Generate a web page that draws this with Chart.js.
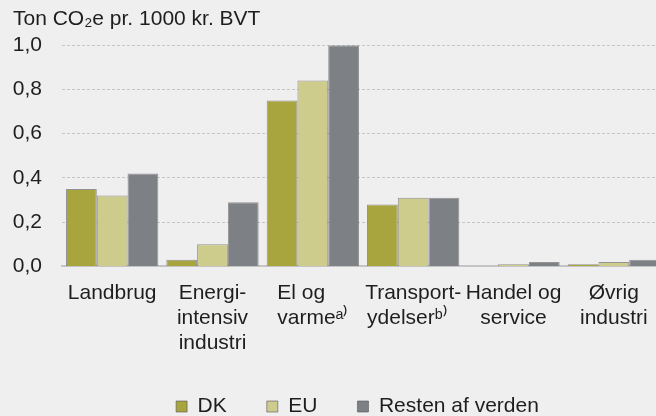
<!DOCTYPE html>
<html>
<head>
<meta charset="utf-8">
<script src="https://cdn.jsdelivr.net/npm/chart.js@4/dist/chart.umd.min.js"></script>
<style>
  html, body { margin: 0; padding: 0; background: #efefef; overflow: hidden; }
  #wrap { width: 670px; height: 416px; }
</style>
</head>
<body>
<div id="wrap"><canvas id="canvas" width="670" height="416"></canvas></div>
<script>
// chart values
const categories = [
  ['Landbrug'],
  ['Energi-', 'intensiv', 'industri'],
  ['El og    ', 'varmeᵃ⁾'],
  ['Transport-', 'ydelserᵇ⁾  '],
  ['Handel og', 'service'],
  ['Øvrig', 'industri']
];
const dkValues = [0.35, 0.03, 0.75, 0.28, 0.00, 0.01];
const euValues = [0.32, 0.10, 0.84, 0.31, 0.01, 0.02];
const restValues = [0.42, 0.29, 1.00, 0.31, 0.02, 0.03];
const seriesNames = ['DK', 'EU', 'Resten af verden'];
const yTicks = [0, 0.2, 0.4, 0.6, 0.8, 1.0];

const FONT = "'Liberation Sans', Arial, sans-serif";
const TEXT = '#1e1e1e';

// nudges the legend so it sits under the plot like the original
// (only the top moves up, so the legend keeps room down to the canvas edge)
const legendShift = {
  id: 'legendShift',
  afterLayout(chart, args, opts) {
    const l = chart.legend;
    if (!l) return;
    l.left += opts.dx;
    l.right += opts.dx;
    l.top += opts.dy;
    l.height = l.bottom - l.top;
  }
};

const bgPlugin = {
  id: 'bg',
  beforeDraw(chart) {
    const c = chart.ctx;
    c.save();
    c.fillStyle = '#efefef';
    c.fillRect(0, 0, chart.width, chart.height);
    c.restore();
  }
};

const barBorder = 'rgba(85,85,85,0.6)';

new Chart(document.getElementById('canvas'), {
  type: 'bar',
  data: {
    labels: categories,
    datasets: [
      { label: seriesNames[0], data: dkValues, backgroundColor: '#a8a43e', borderColor: barBorder, borderWidth: 1 },
      { label: seriesNames[1], data: euValues, backgroundColor: '#cdcc8d', borderColor: barBorder, borderWidth: 1 },
      { label: seriesNames[2], data: restValues, backgroundColor: '#7d8085', borderColor: barBorder, borderWidth: 1 }
    ]
  },
  options: {
    responsive: false,
    animation: false,
    devicePixelRatio: 1,
    layout: { padding: { left: 13, right: 6, top: 0, bottom: 0 } },
    datasets: { bar: { categoryPercentage: 0.92, barPercentage: 1.0 } },
    plugins: {
      title: {
        display: true,
        text: 'Ton CO₂e pr. 1000 kr. BVT',
        align: 'start',
        color: TEXT,
        font: { family: FONT, size: 21, weight: 'normal', lineHeight: 1.2 },
        padding: { top: 7, bottom: 13 }
      },
      legend: {
        position: 'bottom',
        maxHeight: 46,
        labels: {
          boxWidth: 11,
          boxHeight: 11,
          padding: 40,
          color: TEXT,
          font: { family: FONT, size: 21 }
        }
      },
      legendShift: { dx: 19, dy: -14 },
      tooltip: { enabled: false }
    },
    scales: {
      x: {
        grid: { display: false, drawTicks: false },
        border: { display: true, color: '#c4c4c4', width: 2 },
        ticks: {
          color: TEXT,
          font: { family: FONT, size: 21, lineHeight: 1.2 },
          padding: 14,
          autoSkip: false,
          maxRotation: 0,
          minRotation: 0
        }
      },
      y: {
        min: 0,
        max: 1,
        afterBuildTicks: axis => { axis.ticks = yTicks.map(v => ({ value: v })); },
        afterFit: axis => { axis.width = 49; },
        grid: {
          color: ctx => ctx.tick && ctx.tick.value === 0 ? 'rgba(0,0,0,0)' : '#c6c6c6',
          drawTicks: false,
          lineWidth: 1
        },
        border: { display: false, dash: [3, 2] },
        ticks: {
          color: TEXT,
          font: { family: FONT, size: 21 },
          padding: 20,
          callback: v => v.toFixed(1).replace('.', ',')
        }
      }
    }
  },
  plugins: [bgPlugin, legendShift]
});
</script>
</body>
</html>
